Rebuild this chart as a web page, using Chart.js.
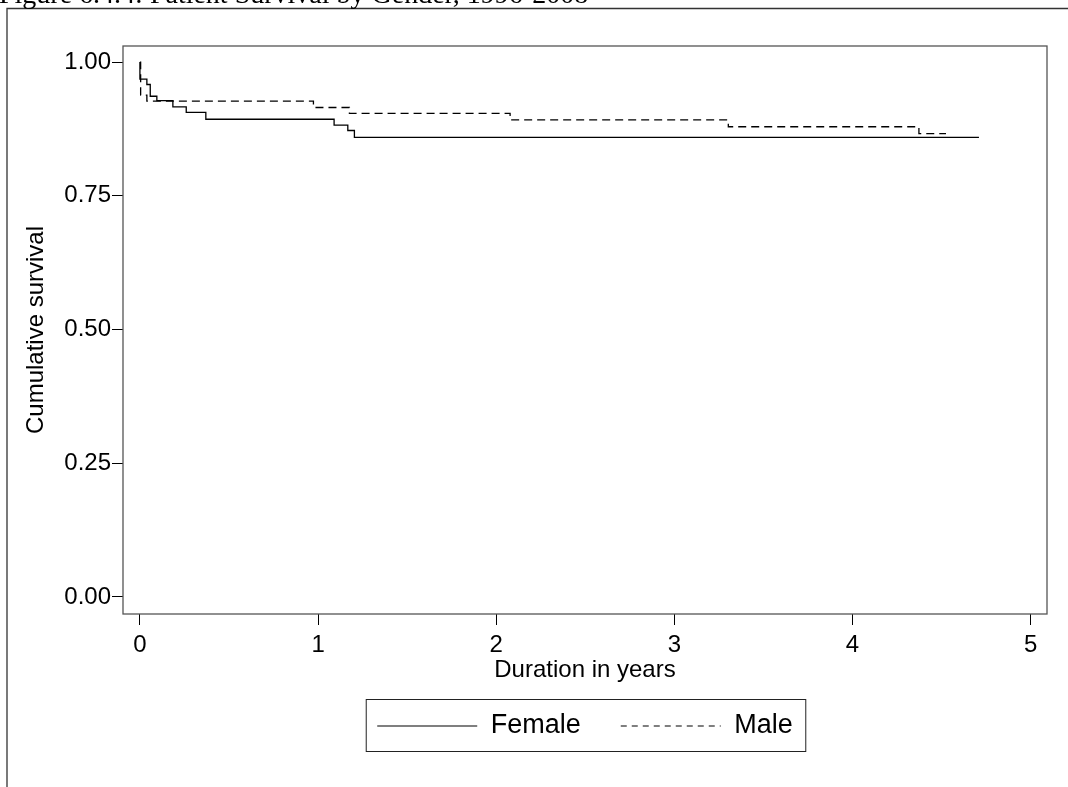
<!DOCTYPE html>
<html lang="en">

<head>
    <meta charset="UTF-8">
    <title>Patient Survival by Gender</title>
    <script src="https://cdn.jsdelivr.net/npm/chart.js"></script>
    <style>
        body { margin: 0; background: #fff; }
        canvas { display: block; }
    </style>
</head>

<body>
    <canvas id="survival-chart" width="1068" height="787"></canvas>

    <script>
        // Kaplan-Meier steps (years, cumulative survival)
        var femaleTime = [0, 0, 0.039, 0.058, 0.095, 0.185, 0.26, 0.37, 1.09, 1.167, 1.204, 4.71];
        var femaleSurv = [1, 0.968, 0.958, 0.936, 0.928, 0.916, 0.906, 0.893, 0.882, 0.872, 0.859, 0.859];
        var maleTime = [0, 0.004, 0.039, 0.974, 1.176, 2.078, 3.303, 4.373, 4.525];
        var maleSurv = [1, 0.938, 0.927, 0.915, 0.904, 0.892, 0.879, 0.866, 0.866];

        var xTicks = [0, 1, 2, 3, 4, 5];
        var yTicks = [0, 0.25, 0.5, 0.75, 1];
        var figureTitle = 'Figure 6.4.4: Patient Survival by Gender, 1996-2008';

        var sans = "'Liberation Sans', Arial, sans-serif";

        function toPoints(t, s) {
            return t.map(function (x, i) { return { x: x, y: s[i] }; });
        }

        // page frame, cut-off figure title, plot box and the box round the legend
        var decorations = {
            id: 'decorations',
            afterDraw: function (chart) {
                var ctx = chart.ctx, a = chart.chartArea;
                ctx.save();
                ctx.strokeStyle = '#333';
                ctx.lineWidth = 1.3;
                ctx.beginPath();
                ctx.moveTo(7, chart.height);
                ctx.lineTo(7, 8.5);
                ctx.lineTo(chart.width, 8.5);
                ctx.stroke();

                ctx.fillStyle = '#000';
                ctx.font = "28px 'Liberation Serif', 'Times New Roman', serif";
                ctx.textBaseline = 'alphabetic';
                ctx.fillText(figureTitle, -1, 3);

                ctx.strokeStyle = '#555';
                ctx.strokeRect(a.left, a.top, a.right - a.left, a.bottom - a.top);

                var hb = chart.legend.legendHitBoxes;
                if (hb && hb.length) {
                    var first = hb[0], last = hb[hb.length - 1];
                    var l = first.left - 11, r = last.left + last.width + 13;
                    var t = first.top - 13, b = first.top + first.height + 12;
                    ctx.strokeStyle = '#222';
                    ctx.lineWidth = 1;
                    ctx.strokeRect(l, t, r - l, b - t);
                }
                ctx.restore();
            }
        };

        var ctx = document.getElementById('survival-chart').getContext('2d');
        var chart = new Chart(ctx, {
            type: 'line',
            data: {
                datasets: [{
                    label: 'Female',
                    data: toPoints(femaleTime, femaleSurv),
                    borderColor: '#000',
                    borderWidth: 1.3,
                    stepped: 'before',
                    pointRadius: 0,
                    fill: false
                }, {
                    label: 'Male',
                    data: toPoints(maleTime, maleSurv),
                    borderColor: '#000',
                    borderWidth: 1.3,
                    borderDash: [8, 5],
                    stepped: 'before',
                    pointRadius: 0,
                    fill: false
                }]
            },
            options: {
                responsive: false,
                animation: false,
                layout: { padding: { top: 46, right: 21, bottom: 37.5, left: 0 } },
                plugins: {
                    tooltip: { enabled: false },
                    legend: {
                        position: 'bottom',
                        fullSize: false,
                        labels: {
                            usePointStyle: true,
                            pointStyle: 'line',
                            pointStyleWidth: 100,
                            padding: 40,
                            color: '#000',
                            font: { family: sans, size: 27 },
                            // point-style items lose the dataset dash, so put it back
                            generateLabels: function (chart) {
                                var items = Chart.defaults.plugins.legend.labels.generateLabels(chart);
                                items.forEach(function (item) {
                                    var ds = chart.data.datasets[item.datasetIndex];
                                    item.lineDash = ds.borderDash ? [6, 5] : [];
                                    item.lineWidth = 1.2;
                                    item.strokeStyle = ds.borderColor;
                                });
                                return items;
                            }
                        }
                    }
                },
                scales: {
                    x: {
                        type: 'linear',
                        min: -0.095,
                        max: 5.092,
                        afterBuildTicks: function (scale) {
                            scale.ticks = xTicks.map(function (v) { return { value: v }; });
                        },
                        afterFit: function (scale) { scale.height = 58.5; },
                        grid: { drawOnChartArea: false, tickLength: 11, color: '#000' },
                        border: { display: false },
                        ticks: {
                            padding: 6,
                            color: '#000',
                            maxRotation: 0,
                            font: { family: sans, size: 24 },
                            callback: function (v) { return String(v); }
                        },
                        title: {
                            display: true,
                            text: 'Duration in years',
                            color: '#000',
                            padding: { top: 0, bottom: -12 },
                            font: { family: sans, size: 24 }
                        }
                    },
                    y: {
                        type: 'linear',
                        min: -0.032,
                        max: 1.03,
                        afterBuildTicks: function (scale) {
                            scale.ticks = yTicks.map(function (v) { return { value: v }; });
                        },
                        afterFit: function (scale) { scale.width = 123; },
                        grid: { drawOnChartArea: false, tickLength: 11, color: '#000' },
                        border: { display: false },
                        ticks: {
                            padding: 1,
                            color: '#000',
                            font: { family: sans, size: 24 },
                            callback: function (v) { return v.toFixed(2); }
                        },
                        title: {
                            display: true,
                            text: 'Cumulative survival',
                            color: '#000',
                            padding: { top: 22, bottom: 0 },
                            font: { family: sans, size: 24 }
                        }
                    }
                }
            },
            plugins: [decorations]
        });
    </script>
</body>

</html>
